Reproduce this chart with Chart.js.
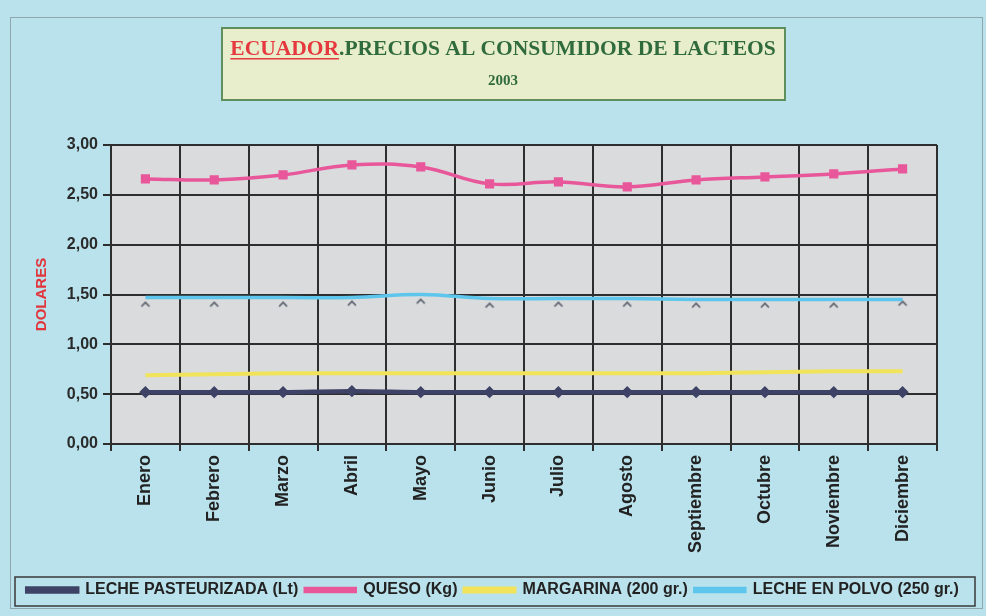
<!DOCTYPE html>
<html>
<head>
<meta charset="utf-8">
<script src="https://cdn.jsdelivr.net/npm/chart.js@4.4.1/dist/chart.umd.min.js"></script>
<style>
  html, body { margin: 0; padding: 0; background: #b9e2ec; }
  #wrap { width: 986px; height: 616px; }
</style>
</head>
<body>
<div id="wrap"><canvas id="grafico" width="986" height="616"></canvas></div>
<script>
// datos
const meses = ['Enero', 'Febrero', 'Marzo', 'Abril', 'Mayo', 'Junio', 'Julio', 'Agosto', 'Septiembre', 'Octubre', 'Noviembre', 'Diciembre'];
const lechePasteurizada = [0.52, 0.52, 0.52, 0.53, 0.52, 0.52, 0.52, 0.52, 0.52, 0.52, 0.52, 0.52];
const queso = [2.66, 2.65, 2.70, 2.80, 2.78, 2.61, 2.63, 2.58, 2.65, 2.68, 2.71, 2.76];
const margarina = [0.69, 0.70, 0.71, 0.71, 0.71, 0.71, 0.71, 0.71, 0.71, 0.72, 0.73, 0.73];
const lechePolvo = [1.47, 1.47, 1.47, 1.47, 1.50, 1.46, 1.46, 1.46, 1.45, 1.45, 1.45, 1.45];
const marcasPolvo = [1.40, 1.40, 1.40, 1.41, 1.43, 1.39, 1.40, 1.40, 1.39, 1.39, 1.39, 1.41];
const yTicks = [0, 0.5, 1, 1.5, 2, 2.5, 3];

// marca "^" como en el original escaneado
const chevron = document.createElement('canvas');
chevron.width = 12; chevron.height = 10;
(function () {
  const c = chevron.getContext('2d');
  c.strokeStyle = '#555a66';
  c.lineWidth = 1.6;
  c.beginPath();
  c.moveTo(2, 7); c.lineTo(6, 3); c.lineTo(10, 7);
  c.stroke();
})();

const fondo = {
  id: 'fondo',
  beforeDraw(chart) {
    const ctx = chart.ctx, a = chart.chartArea;
    ctx.save();
    ctx.fillStyle = '#b9e2ec';
    ctx.fillRect(0, 0, chart.width, chart.height);
    ctx.strokeStyle = '#8fa7ad';
    ctx.lineWidth = 1;
    ctx.strokeRect(10.5, 17.5, 972, 591);
    ctx.fillStyle = '#d9dbdd';
    ctx.fillRect(a.left, a.top, a.right - a.left, a.bottom - a.top);
    ctx.restore();
  },
  afterDraw(chart) {
    const ctx = chart.ctx, lg = chart.legend;
    ctx.save();
    // caja de la leyenda
    ctx.strokeStyle = '#3a3a3a';
    ctx.lineWidth = 1.5;
    ctx.strokeRect(15, lg.top + 2, 960, lg.height - 4);
    // caja del titulo
    ctx.fillStyle = '#e8eecb';
    ctx.fillRect(222, 28, 563, 72);
    ctx.strokeStyle = '#5f8f5c';
    ctx.lineWidth = 2;
    ctx.strokeRect(222, 28, 563, 72);
    ctx.font = 'bold 21.5px "Liberation Serif", serif';
    ctx.textBaseline = 'middle';
    const p1 = 'ECUADOR', p2 = '.PRECIOS AL CONSUMIDOR DE LACTEOS';
    const w1 = ctx.measureText(p1).width, w2 = ctx.measureText(p2).width;
    let x = 503 - (w1 + w2) / 2;
    ctx.fillStyle = '#e5383f';
    ctx.fillText(p1, x, 49);
    ctx.fillRect(x, 58, w1, 1.5);
    ctx.fillStyle = '#2f6b3c';
    ctx.fillText(p2, x + w1, 49);
    ctx.font = 'bold 15px "Liberation Serif", serif';
    ctx.textAlign = 'center';
    ctx.fillText('2003', 503, 81);
    ctx.restore();
  }
};

new Chart(document.getElementById('grafico'), {
  type: 'line',
  data: {
    labels: meses,
    datasets: [
      { label: 'LECHE PASTEURIZADA (Lt)', data: lechePasteurizada, borderColor: '#3d4266', backgroundColor: '#3d4266',
        borderWidth: 4.5, pointStyle: 'rectRot', pointRadius: 3, tension: 0.3 },
      { label: 'QUESO (Kg)', data: queso, borderColor: '#e9579b', backgroundColor: '#e9579b',
        borderWidth: 3.5, pointStyle: 'rect', pointRadius: 4, tension: 0.4 },
      { label: 'MARGARINA (200 gr.)', data: margarina, borderColor: '#f1e35a', backgroundColor: '#f1e35a',
        borderWidth: 4, pointRadius: 0, tension: 0.3 },
      { label: 'LECHE EN POLVO (250 gr.)', data: lechePolvo, borderColor: '#5ec6ec', backgroundColor: '#5ec6ec',
        borderWidth: 3.5, pointRadius: 0, tension: 0.4 },
      { label: 'marcas', data: marcasPolvo, showLine: false, pointStyle: chevron, pointRadius: 5 }
    ]
  },
  options: {
    responsive: false,
    animation: false,
    layout: { padding: { top: 145, right: 0, left: 0, bottom: 8 } },
    plugins: {
      tooltip: { enabled: false },
      legend: {
        position: 'bottom',
        labels: {
          filter: item => item.text !== 'marcas',
          boxWidth: 50,
          boxHeight: 3,
          padding: 7,
          color: '#222',
          font: { family: '"Liberation Sans", Arial, sans-serif', size: 16, weight: 'bold' }
        }
      }
    },
    scales: {
      x: {
        offset: true,
        afterFit: s => { s.height = 131; },
        grid: { offset: true, color: '#2e2e2e', lineWidth: 2, tickLength: 7 },
        border: { color: '#2e2e2e', width: 2 },
        ticks: {
          minRotation: 90, maxRotation: 90, color: '#222', padding: 4,
          font: { family: '"Liberation Sans", Arial, sans-serif', size: 18, weight: 'bold' }
        }
      },
      y: {
        min: 0, max: 3,
        afterFit: s => { s.width = 111; },
        afterBuildTicks: s => { s.ticks = yTicks.map(v => ({ value: v })); },
        grid: { color: '#2e2e2e', lineWidth: 2, tickLength: 8 },
        border: { color: '#2e2e2e', width: 2 },
        title: { display: true, text: 'DOLARES', color: '#e2353b', padding: { top: 33, bottom: 4 },
          font: { family: '"Liberation Sans", Arial, sans-serif', size: 15, weight: 'bold' } },
        ticks: {
          color: '#2a2a2a', padding: 5,
          callback: v => v.toFixed(2).replace('.', ','),
          font: { family: '"Liberation Sans", Arial, sans-serif', size: 16, weight: 'bold' }
        }
      },
      // eje vacio para dejar el margen derecho
      margen: {
        type: 'linear', position: 'right', min: 0, max: 3,
        afterFit: s => { s.width = 49; },
        grid: { display: false, drawTicks: false },
        border: { display: false },
        ticks: { display: false }
      }
    }
  },
  plugins: [fondo]
});
</script>
</body>
</html>
